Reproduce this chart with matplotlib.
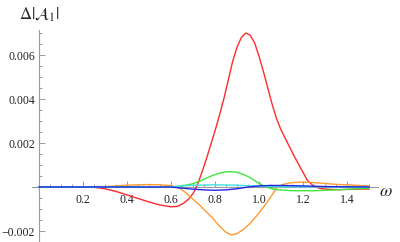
import matplotlib
matplotlib.use("Agg")
import matplotlib.pyplot as plt
import numpy as np
from matplotlib.ticker import FixedLocator, FuncFormatter

# --- data (values in units of 1e-3) ---
SCALE = 1e-3

red_w = [0.0, 0.1, 0.2, 0.25, 0.3, 0.35, 0.4, 0.45, 0.5, 0.55, 0.6, 0.63, 0.66,
         0.68, 0.70, 0.72, 0.74, 0.76, 0.78, 0.80, 0.82, 0.84, 0.86, 0.88,
         0.90, 0.92, 0.94, 0.96, 0.98, 1.0, 1.02, 1.04, 1.06, 1.08, 1.10,
         1.13, 1.16, 1.19, 1.22, 1.25, 1.28, 1.32, 1.36, 1.4, 1.45, 1.5]
red_v = [0.0, 0.0, 0.0, -0.01, -0.08, -0.2, -0.36, -0.52, -0.68, -0.82, -0.9,
         -0.88, -0.72, -0.55, -0.3, 0.1, 0.65, 1.25, 1.9, 2.55, 3.25, 4.0,
         4.85, 5.7, 6.35, 6.8, 7.0, 6.9, 6.55, 5.95, 5.25, 4.5, 3.75, 3.1,
         2.6, 2.0, 1.4, 0.85, 0.3, 0.03, -0.07, -0.11, -0.12, -0.11, -0.1,
         -0.09]

orange_w = [0.0, 0.25, 0.3, 0.35, 0.4, 0.45, 0.5, 0.55, 0.6, 0.62, 0.64, 0.66,
            0.68, 0.70, 0.73, 0.76, 0.79, 0.82, 0.85, 0.875, 0.9, 0.93, 0.96,
            0.99, 1.02, 1.05, 1.08, 1.11, 1.15, 1.2, 1.25, 1.3, 1.35, 1.4,
            1.45, 1.5]
orange_v = [0.0, 0.0, 0.02, 0.05, 0.08, 0.1, 0.11, 0.1, 0.06, 0.02, -0.06,
            -0.2, -0.38, -0.56, -0.82, -1.12, -1.42, -1.78, -2.06, -2.18,
            -2.12, -1.92, -1.65, -1.3, -0.92, -0.5, -0.05, 0.12, 0.2, 0.22,
            0.2, 0.16, 0.12, 0.1, 0.07, 0.05]

green_w = [0.0, 0.6, 0.65, 0.7, 0.73, 0.76, 0.79, 0.82, 0.85, 0.87, 0.9, 0.93,
           0.96, 0.99, 1.02, 1.05, 1.08, 1.15, 1.25, 1.35, 1.45, 1.5]
green_v = [0.0, 0.0, 0.05, 0.15, 0.27, 0.4, 0.53, 0.63, 0.69, 0.7, 0.67, 0.57,
           0.42, 0.23, 0.06, -0.06, -0.12, -0.17, -0.17, -0.13, -0.08, -0.06]

cyan_w = [0.0, 0.6, 0.65, 0.7, 0.8, 0.9, 1.0, 1.1, 1.5]
cyan_v = [0.0, 0.0, 0.05, 0.08, 0.1, 0.08, 0.04, 0.01, 0.0]

blue_w = [0.0, 0.6, 0.65, 0.7, 0.75, 0.8, 0.85, 0.9, 0.95, 1.0, 1.05, 1.1,
          1.2, 1.3, 1.4, 1.5]
blue_v = [0.0, 0.0, -0.05, -0.1, -0.13, -0.15, -0.13, -0.08, 0.0, 0.05, 0.07,
          0.07, 0.05, 0.02, 0.01, 0.0]

x_major = [0.2, 0.4, 0.6, 0.8, 1.0, 1.2, 1.4]
y_major = [-0.002, 0.002, 0.004, 0.006]

AXIS_GRAY = "#9a9a9a"
TEXT = "#222222"

plt.rcParams["font.family"] = ["Liberation Serif", "DejaVu Serif"]
plt.rcParams["mathtext.fontset"] = "stix"

fig = plt.figure(figsize=(4.0, 2.42), dpi=100)
ax = fig.add_axes([0, 0, 1, 1])
ax.patch.set_alpha(0)

series = [
    (red_w, red_v, "#ff2a2a"),
    (orange_w, orange_v, "#ff9a2e"),
    (green_w, green_v, "#3ee83e"),
    (cyan_w, cyan_v, "#3ee0e0"),
    (blue_w, blue_v, "#2424e6"),
]
for w, v, col in series:
    ax.plot(w, np.array(v) * SCALE, color=col, lw=1.0)

# pixel mapping: x = 39 + 220*w, y = 187 - 22000*v
ax.set_xlim(-39 / 220, 361 / 220)
ax.set_ylim(-55 / 22000, 187 / 22000)

for s in ("top", "right"):
    ax.spines[s].set_visible(False)
ax.spines["left"].set_position(("data", 0))
ax.spines["bottom"].set_position(("data", 0))
ax.spines["left"].set_bounds(-0.0025, 0.00714)
ax.spines["bottom"].set_bounds(-0.03, 1.54)
for s in ("left", "bottom"):
    ax.spines[s].set_color(AXIS_GRAY)
    ax.spines[s].set_linewidth(0.8)
    ax.spines[s].set_zorder(0)

x_minor = [round(0.05 * i, 2) for i in range(1, 31) if i % 4 != 0]
y_minor = [round(0.0005 * i, 5) for i in range(-5, 15) if i % 4 != 0]
ax.xaxis.set_major_locator(FixedLocator(x_major))
ax.xaxis.set_minor_locator(FixedLocator(x_minor))
ax.yaxis.set_major_locator(FixedLocator(y_major))
ax.yaxis.set_minor_locator(FixedLocator(y_minor))

ax.xaxis.set_major_formatter(FuncFormatter(lambda v, p: f"{v:.1f}"))
ax.yaxis.set_major_formatter(
    FuncFormatter(lambda v, p: f"{v:.3f}".replace("-", "\u2212")))

ax.tick_params(which="both", direction="in", color=AXIS_GRAY, width=0.7,
               labelcolor=TEXT, labelsize=8.5)
ax.tick_params(which="major", length=4)
ax.tick_params(which="minor", length=2)
ax.tick_params(axis="x", pad=5)
ax.tick_params(axis="y", pad=3)

fig.text(39 / 400, 1 - 15 / 242, r"$\Delta|\mathcal{A}_1|$", ha="center",
         va="center", fontsize=12, color=TEXT)
fig.text(386 / 400, 1 - 191 / 242, r"$\omega$", ha="center", va="center",
         fontsize=13, color=TEXT)

fig.savefig("out.png", dpi=100)
